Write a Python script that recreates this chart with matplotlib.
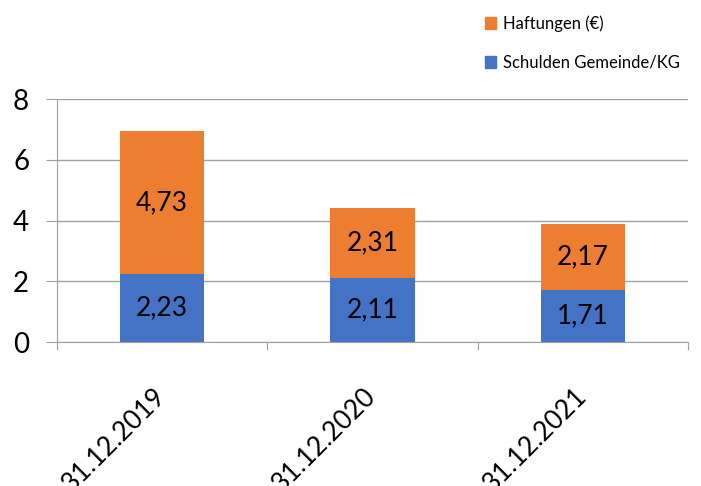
import matplotlib.pyplot as plt
from matplotlib.patches import Patch

plt.rcParams['font.family'] = ['Lato', 'DejaVu Sans']

dates = ['31.12.2019', '31.12.2020', '31.12.2021']
schulden = [2.23, 2.11, 1.71]
haftungen = [4.73, 2.31, 2.17]

blue = '#4472C4'
orange = '#ED7D31'

fig = plt.figure(figsize=(7.01, 4.86), dpi=100)
ax = fig.add_axes([0.0813, 0.296, 0.9, 0.5])

x = range(len(dates))
ax.bar(x, schulden, width=0.4, color=blue)
ax.bar(x, haftungen, width=0.4, bottom=schulden, color=orange)

for i in x:
    ax.text(i, schulden[i] / 2, f'{schulden[i]:.2f}'.replace('.', ','),
            ha='center', va='center', fontsize=19)
    ax.text(i, schulden[i] + haftungen[i] / 2, f'{haftungen[i]:.2f}'.replace('.', ','),
            ha='center', va='center', fontsize=19)

ax.set_xlim(-0.5, 2.5)
ax.set_ylim(0, 8)
ax.set_yticks([0, 2, 4, 6, 8])
ax.set_xticks([-0.5, 0.5, 1.5, 2.5], minor=False)
ax.set_xticklabels([])
ax.set_xticks(list(x), minor=True)
ax.set_xticklabels(dates, minor=True, rotation=45, ha='right', va='center',
                   rotation_mode='anchor', fontsize=19)
ax.tick_params(axis='x', which='minor', length=0, pad=36)
ax.tick_params(axis='x', which='major', length=6, color='#A0A0A0', direction='out')
ax.tick_params(axis='y', labelsize=20, length=8, color='#A0A0A0', pad=12)

ax.grid(axis='y', color='#A0A0A0', linewidth=1)
ax.set_axisbelow(True)
for s in ['top', 'right']:
    ax.spines[s].set_visible(False)
ax.spines['left'].set_color('#A0A0A0')
ax.spines['bottom'].set_color('#A0A0A0')

handles = [Patch(color=orange, label='Haftungen (€)'),
           Patch(color=blue, label='Schulden Gemeinde/KG')]
fig.legend(handles=handles, loc='upper left', bbox_to_anchor=(0.67, 1.0),
           frameon=False, fontsize=12, handlelength=0.7, handleheight=0.7,
           handletextpad=0.4, labelspacing=1.4)

plt.savefig('out.png', dpi=100)
